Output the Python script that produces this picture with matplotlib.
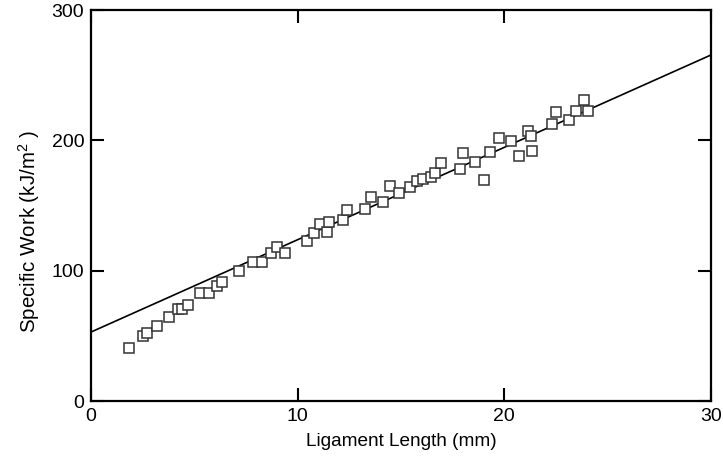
import matplotlib
matplotlib.use("Agg")
import matplotlib.pyplot as plt

plt.rcParams['font.family'] = ['Liberation Sans', 'DejaVu Sans']
plt.rcParams['mathtext.fontset'] = 'custom'
plt.rcParams['mathtext.rm'] = 'Liberation Sans'
plt.rcParams['mathtext.it'] = 'Liberation Sans:italic'

# ligament length (mm) and specific work (kJ/m^2)
ligament = [1.85, 2.53, 2.72, 3.18, 3.77, 4.19, 4.39, 4.71, 5.27, 5.72,
            6.11, 6.34, 7.18, 7.82, 8.26, 8.69, 8.98, 9.39, 10.43, 10.81,
            11.08, 11.43, 11.50, 12.21, 12.37, 13.24, 13.53, 14.11, 14.48, 14.92,
            15.43, 15.76, 16.08, 16.48, 16.66, 16.93, 17.87, 18.01, 18.61, 19.03,
            19.30, 19.75, 20.32, 20.72, 21.16, 21.32, 21.37, 22.32, 22.50, 23.14,
            23.50, 23.85, 24.08]
work = [40.9, 50.1, 51.9, 57.5, 64.2, 70.8, 70.8, 73.4, 82.9, 82.9,
        88.2, 91.3, 99.5, 106.6, 106.6, 113.8, 118.0, 113.8, 122.8, 129.2,
        135.8, 129.9, 137.3, 138.9, 146.5, 147.3, 156.8, 152.9, 165.0, 159.8,
        164.4, 168.6, 170.1, 171.6, 175.2, 182.4, 177.8, 190.5, 183.4, 169.6,
        191.3, 201.8, 199.2, 187.7, 207.2, 203.3, 192.1, 212.3, 222.0, 215.6,
        222.5, 230.9, 222.8]

# linear fit line endpoints
fit_x = [0, 30]
fit_y = [53.0, 265.5]

fig = plt.figure(figsize=(7.23, 4.61), dpi=100)
ax = fig.add_axes([0.126, 0.130, 0.857, 0.848])

ax.plot(fit_x, fit_y, color='black', lw=1.2, zorder=2)
ax.plot(ligament, work, linestyle='none', marker='s', ms=7.5,
        mfc='white', mec='#333333', mew=1.1, zorder=3)

ax.set_xlim(0, 30)
ax.set_ylim(0, 300)
ax.set_xticks([0, 10, 20, 30])
ax.set_yticks([0, 100, 200, 300])
ax.tick_params(direction='in', length=9.5, width=1.5, labelsize=14,
               top=True, right=True, pad=5)
for s in ax.spines.values():
    s.set_linewidth(1.6)

ax.set_xlabel('Ligament Length (mm)', fontsize=13.7, labelpad=6)
ax.set_ylabel('Specific Work (kJ/m$^{2}$ )', fontsize=14.8)
ax.yaxis.set_label_coords(-0.08, 0.435)

fig.savefig('out.png', dpi=100)
